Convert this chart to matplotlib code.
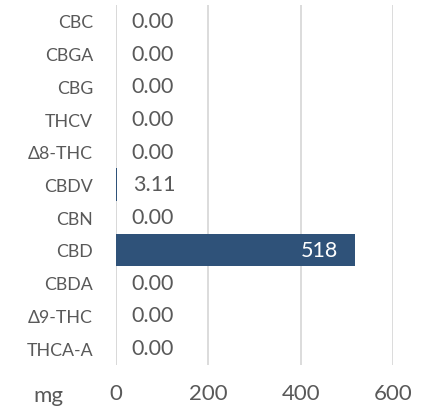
import matplotlib
matplotlib.use("Agg")
import matplotlib.pyplot as plt

categories = ["CBC", "CBGA", "CBG", "THCV", "Δ8-THC", "CBDV", "CBN", "CBD", "CBDA", "Δ9-THC", "THCA-A"]
values = [0.00, 0.00, 0.00, 0.00, 0.00, 3.11, 0.00, 518, 0.00, 0.00, 0.00]
labels = ["0.00", "0.00", "0.00", "0.00", "0.00", "3.11", "0.00", "518", "0.00", "0.00", "0.00"]
xticks = [0, 200, 400, 600]
unit = "mg"

plt.rcParams['font.family'] = ['Lato', 'DejaVu Sans']
fig = plt.figure(figsize=(4.23, 4.10), dpi=100)
ax = fig.add_axes([116/423, 1 - 365.5/410, (393-116)/423, (365.5-5.5)/410])

ypos = list(range(len(categories)))
bar_color = "#2F5279"
ax.barh(ypos, values, height=1.0, color=bar_color, zorder=3)
ax.set_ylim(len(categories) - 0.5, -0.5)
ax.set_xlim(0, 600)
ax.set_yticks(ypos)
ax.set_yticklabels(categories, fontsize=12.8, color="#595959")
ax.set_xticks(xticks)
ax.set_xticklabels([str(t) for t in xticks], fontsize=16, color="#595959")
ax.tick_params(axis='y', length=0, pad=16.5)
ax.tick_params(axis='x', length=0, pad=13)
for s in ax.spines.values():
    s.set_visible(False)
ax.grid(axis='x', color="#D9D9D9", linewidth=1.3, zorder=0)
ax.axvline(0, color="#D9D9D9", linewidth=1.3, zorder=1)

for y, v, lab in zip(ypos, values, labels):
    if v > 100:
        ax.annotate(lab, (v, y), xytext=(-12, 0), textcoords="offset points",
                    ha="right", va="center", fontsize=15.5, color="white", zorder=4)
    else:
        ax.annotate(lab, (v, y), xytext=(11, 0), textcoords="offset points",
                    ha="left", va="center", fontsize=15.5, color="#595959", zorder=4)

fig.text(48/423, 1 - 396/410, unit, ha="center", va="center", fontsize=16, color="#595959")

fig.savefig("out.png", dpi=100)
